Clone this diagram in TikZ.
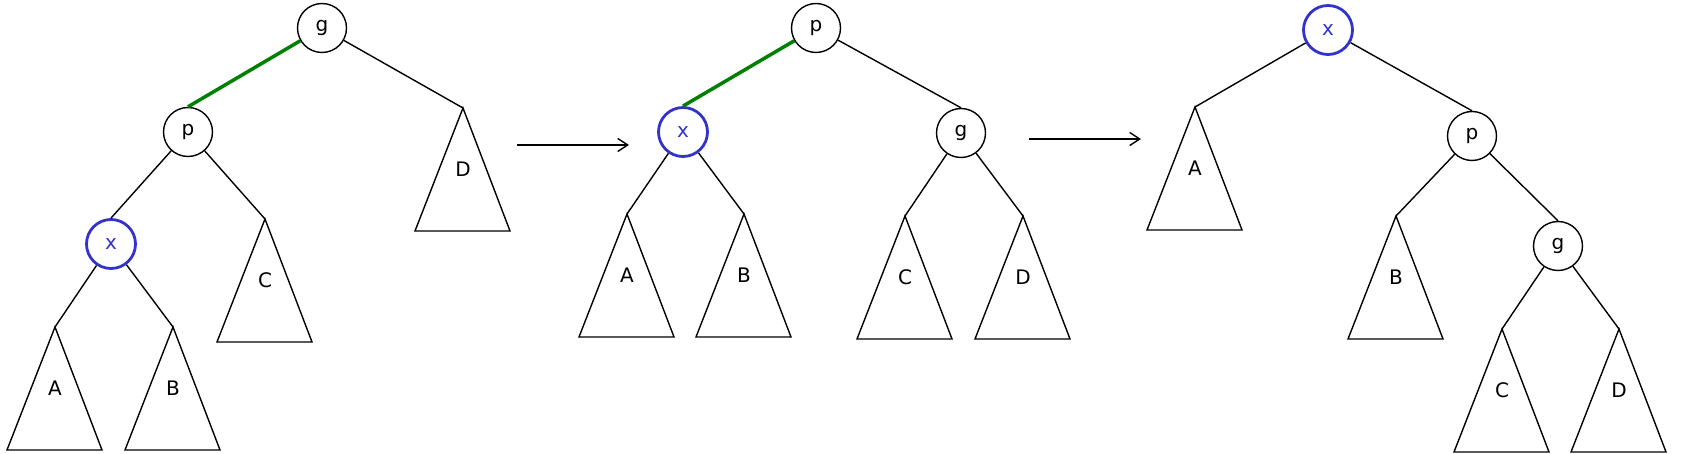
\documentclass[tikz,border=0pt]{standalone}
\usepackage{fontspec}
\setmainfont{DejaVu Sans}
\usetikzlibrary{arrows.meta,calc}
\definecolor{edgegreen}{RGB}{0,128,0}
\definecolor{hiblue}{RGB}{51,51,204}
\tikzset{
  treenode/.style={circle,draw=black,line width=1.4pt,minimum size=49pt,inner sep=0pt,font=\fontsize{20}{24}\selectfont},
  hinode/.style={treenode,draw=hiblue,line width=2.8pt,text=hiblue},
  edge/.style={draw=black,line width=1.4pt},
  hiedge/.style={draw=edgegreen,line width=3.5pt},
  tri/.style={draw=black,line width=1.4pt,line join=miter},
  lab/.style={inner sep=0pt,font=\fontsize{20}{24}\selectfont},
  steparrow/.style={draw=black,line width=1.4pt,-{Straight Barb[length=10pt,width=13pt,line width=1.4pt]}}
}
\newcommand{\subtri}[4]{%
  \coordinate (#1) at (#2,#3);
  \draw[tri] (#1) -- ++(-48,123) -- ++(95,0) -- cycle;
  \node[lab] (#1lab) at ($(#1)+(0,61)$) {#4};
}
\begin{document}
\begin{tikzpicture}[x=1pt,y=-1pt]
\useasboundingbox (0,0) rectangle (1681,454);
% ---------- panel 1 ----------
\node[treenode] (g1) at (322,28) {g};
\node[treenode] (p1) at (188,132) {p};
\node[hinode] (x1) at (111,244) {x};
\subtri{D1}{463}{108}{D}
\subtri{C1}{265}{219}{C}
\subtri{A1}{55}{327}{A}
\subtri{B1}{173}{327}{B}
\draw[hiedge] (g1) -- (p1.north);
\draw[edge] (g1) -- (D1);
\draw[edge] (p1) -- (x1.north);
\draw[edge] (p1) -- (C1);
\draw[edge] (x1) -- (A1);
\draw[edge] (x1) -- (B1);
% ---------- arrow 1 ----------
\coordinate (ar1s) at (517,145);
\coordinate (ar1e) at (629,145);
\draw[steparrow] (ar1s) -- (ar1e);
% ---------- panel 2 ----------
\node[treenode] (p2) at (816,28) {p};
\node[hinode] (x2) at (683,132) {x};
\node[treenode] (g2) at (961,133) {g};
\subtri{A2}{627}{214}{A}
\subtri{B2}{744}{214}{B}
\subtri{C2}{905}{216}{C}
\subtri{D2}{1023}{216}{D}
\draw[hiedge] (p2) -- (x2.north);
\draw[edge] (p2) -- (g2.north);
\draw[edge] (x2) -- (A2);
\draw[edge] (x2) -- (B2);
\draw[edge] (g2) -- (C2);
\draw[edge] (g2) -- (D2);
% ---------- arrow 2 ----------
\coordinate (ar2s) at (1029,139);
\coordinate (ar2e) at (1141,139);
\draw[steparrow] (ar2s) -- (ar2e);
% ---------- panel 3 ----------
\node[hinode] (x3) at (1328,30) {x};
\node[treenode] (p3) at (1472,136) {p};
\node[treenode] (g3) at (1558,246) {g};
\subtri{A3}{1195}{107}{A}
\subtri{B3}{1396}{216}{B}
\subtri{C3}{1502}{329}{C}
\subtri{D3}{1619}{329}{D}
\draw[edge] (x3) -- (A3);
\draw[edge] (x3) -- (p3.north);
\draw[edge] (p3) -- (B3);
\draw[edge] (p3) -- (g3.north);
\draw[edge] (g3) -- (C3);
\draw[edge] (g3) -- (D3);
\end{tikzpicture}
\end{document}
